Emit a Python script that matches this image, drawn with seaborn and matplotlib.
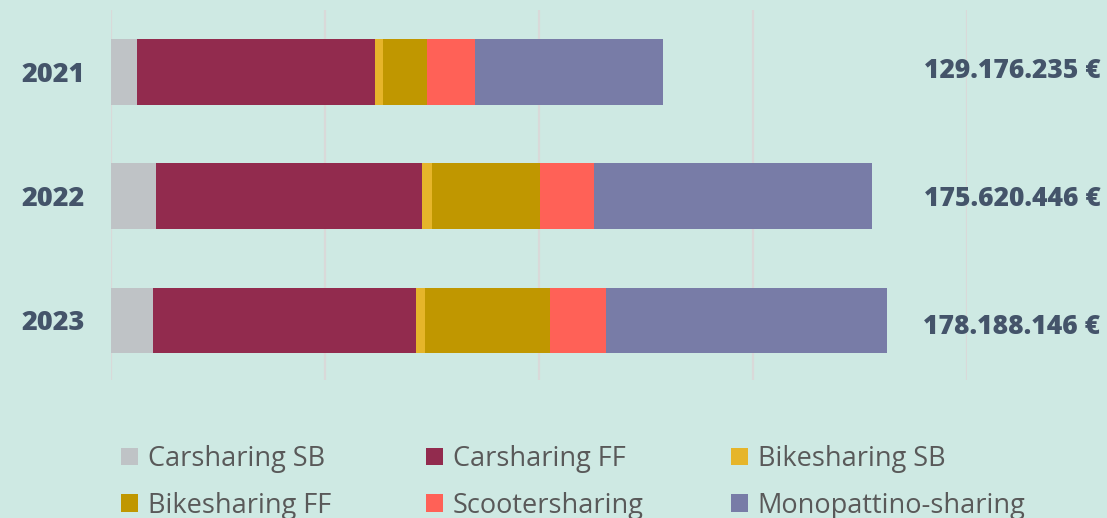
import numpy as np
import matplotlib
matplotlib.use("Agg")
import matplotlib.pyplot as plt
import seaborn as sns
from matplotlib.patches import Patch

# values in millions of euro
years = ["2021", "2022", "2023"]
totals = ["129.176.235 €", "175.620.446 €", "178.188.146 €"]
categories = ["Carsharing SB", "Carsharing FF", "Bikesharing SB",
              "Bikesharing FF", "Scootersharing", "Monopattino-sharing"]
carsharing_sb = [6.1, 10.6, 9.8]
carsharing_ff = [55.5, 62.1, 61.5]
bikesharing_sb = [2.0, 2.4, 2.1]
bikesharing_ff = [10.2, 25.2, 29.1]
scootersharing = [11.2, 12.5, 13.1]
monopattino = [44.0, 65.1, 65.7]
colors = ["#BFC3C6", "#922B4E", "#E6B52A", "#C09700", "#FF6157", "#787CA7"]

bg = "#CEE9E3"
dark = "#44546A"

sns.set_style("white")
plt.rcParams["font.family"] = ["Open Sans", "DejaVu Sans"]

fig = plt.figure(figsize=(11.07, 5.18), dpi=100, facecolor=bg)
ax = fig.add_axes([111 / 1107, 1 - 380 / 518, 856 / 1107, 370 / 518])
ax.set_facecolor(bg)

series = [carsharing_sb, carsharing_ff, bikesharing_sb,
          bikesharing_ff, scootersharing, monopattino]
cum = np.cumsum(np.array(series), axis=0)

# stacked bars: draw cumulative sums from the longest down
for i in range(len(series) - 1, -1, -1):
    sns.barplot(x=cum[i], y=years, color=colors[i], orient="h",
                width=0.53, saturation=1, linewidth=0, ax=ax, zorder=3)

ax.set_xlim(0, 200)
ax.set_ylim(2.48, -0.5)
ax.set_xticks([0, 50, 100, 150, 200])
ax.xaxis.grid(True, color="#D9D9D9", linewidth=1.6, zorder=0)
ax.yaxis.grid(False)
ax.set_axisbelow(True)
ax.tick_params(axis="x", length=0, labelbottom=False)
ax.tick_params(axis="y", length=0, pad=19)
ax.set_xlabel("")
ax.set_ylabel("")
for lab in ax.get_yticklabels():
    lab.set_fontsize(19.5)
    lab.set_fontweight(800)
    lab.set_color(dark)
sns.despine(ax=ax, left=True, bottom=True)

for i, t in enumerate(totals):
    ax.text(1.0526, i - 0.01 + 0.03 * i, t, transform=ax.get_yaxis_transform(),
            ha="center", va="center", fontsize=19, fontweight=800, color=dark)

# legend: three columns, two rows, placed one column at a time
col_x = [121, 426, 731]
for c in range(3):
    idx = [c, c + 3]
    leg = fig.legend([Patch(facecolor=colors[k], edgecolor="none") for k in idx],
                     [categories[k] for k in idx],
                     loc="upper left", bbox_to_anchor=(col_x[c] / 1107, 1 - 445 / 518),
                     frameon=False, fontsize=19.5, handlelength=0.64, handleheight=0.64,
                     handletextpad=0.34, labelspacing=0.69,
                     borderpad=0, borderaxespad=0)
    for txt in leg.get_texts():
        txt.set_color("#595959")

fig.savefig("out.png", dpi=100, facecolor=bg)
